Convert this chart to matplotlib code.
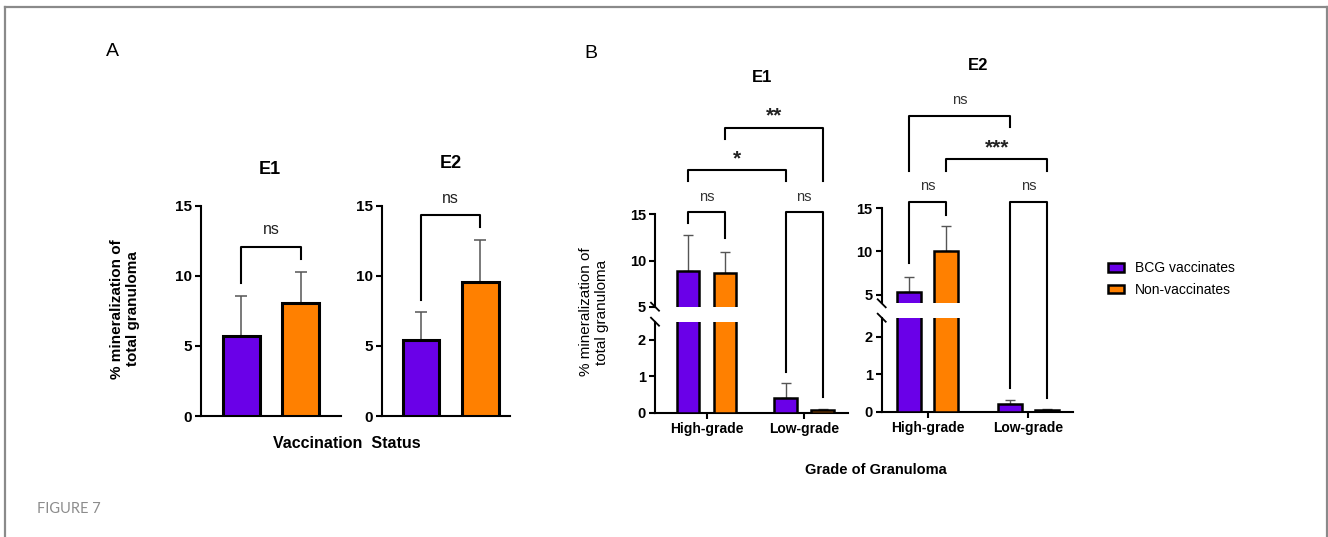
import numpy as np
import matplotlib
matplotlib.use("Agg")
import matplotlib.pyplot as plt
from matplotlib.lines import Line2D
from matplotlib.patches import Patch

plt.rcParams['font.family'] = ['Liberation Sans', 'DejaVu Sans']

W, H = 1328, 537

groups = ['BCG vaccinates', 'Non-vaccinates']
colors = ['#6a00e8', '#ff8000']

# panel A - % mineralization by vaccination status
a_e1_mean = [5.7, 8.1]
a_e1_err = [2.9, 2.2]
a_e2_mean = [5.4, 9.6]
a_e2_err = [2.0, 3.0]

# panel B - by grade of granuloma
grades = ['High-grade', 'Low-grade']
b_e1_bcg = [8.9, 0.41]
b_e1_bcg_err = [3.85, 0.41]
b_e1_non = [8.7, 0.07]
b_e1_non_err = [2.2, 0.02]
b_e2_bcg = [5.3, 0.20]
b_e2_bcg_err = [1.8, 0.11]
b_e2_non = [10.1, 0.05]
b_e2_non_err = [2.9, 0.02]

# brackets: (bar1, bar2, y, leg1 end, leg2 end, label y, text)
a_e1_sig = [(0, 1, 12.05, 9.5, 11.2, 13.3, 'ns')]
a_e2_sig = [(0, 1, 14.36, 8.3, 13.5, 15.5, 'ns')]
# bars in B numbered: 0 high-bcg, 1 high-non, 2 low-bcg, 3 low-non
b_e1_sig = [(0, 1, 15.28, 14.06, 12.43, 16.9, 'ns'),
            (2, 3, 15.28, 1.13, 0.44, 16.9, 'ns'),
            (0, 2, 19.79, 18.64, 18.64, 21.0, '*'),
            (1, 3, 24.37, 23.12, 18.64, 25.6, '**')]
b_e2_sig = [(0, 1, 15.76, 8.63, 14.22, 17.58, 'ns'),
            (2, 3, 15.76, 0.62, 0.36, 17.58, 'ns'),
            (1, 3, 20.7, 19.32, 19.32, 22.0, '***'),
            (0, 2, 25.68, 19.32, 24.44, 27.5, 'ns')]


def rect(l, t, r, b):
    return [l / W, 1 - b / H, (r - l) / W, (b - t) / H]


def style(ax, yfs, xfs=None, bold=True):
    for s in ['top', 'right']:
        ax.spines[s].set_visible(False)
    for s in ['left', 'bottom']:
        ax.spines[s].set_linewidth(1.5)
    ax.tick_params(width=1.5, length=4.5, pad=2)
    ax.tick_params(axis='y', labelsize=yfs)
    ax.tick_params(axis='x', labelsize=xfs or yfs)
    for t in ax.get_yticklabels() + ax.get_xticklabels():
        t.set_fontweight('bold' if bold else 'normal')


fig = plt.figure(figsize=(W / 100, H / 100), dpi=100)

# frame around the figure
frame = dict(color='#8a8a8a', lw=1.6, transform=fig.transFigure)
fig.add_artist(Line2D([4.5 / W, 1327 / W], [1 - 7 / H, 1 - 7 / H], **frame))
fig.add_artist(Line2D([4.5 / W, 4.5 / W], [0, 1 - 7 / H], **frame))
fig.add_artist(Line2D([1327 / W, 1327 / W], [0, 1 - 7 / H], **frame))

# ---- panel A ----
for r, mean, err, sig, xr in [((201, 206, 341, 416), a_e1_mean, a_e1_err, a_e1_sig, (-0.67, 1.67)),
                              ((382, 206, 510, 416), a_e2_mean, a_e2_err, a_e2_sig, (-0.66, 1.5))]:
    ax = fig.add_axes(rect(*r))
    x = np.arange(len(mean))
    ax.bar(x, mean, width=0.62, color=colors, edgecolor='black', linewidth=2.2, zorder=3)
    ax.errorbar(x, mean, yerr=[[0] * len(err), err], fmt='none', ecolor='#555555',
                elinewidth=1.1, capsize=4, capthick=1.1, zorder=2)
    ax.set_ylim(0, 15)
    ax.set_xlim(*xr)
    ax.set_yticks([0, 5, 10, 15])
    ax.set_xticks([])
    style(ax, 11)
    for b1, b2, y, l1, l2, ly, txt in sig:
        ax.plot([b1, b1, b2, b2], [l1, y, y, l2], color='k', lw=1.5, clip_on=False)
        ax.text((b1 + b2) / 2, ly, txt, ha='center', va='center', fontsize=11.5, color='#222222')

fig.text(270 / W, 1 - 170 / H, 'E1', ha='center', va='center', fontsize=13, fontweight='bold')
fig.text(451 / W, 1 - 163 / H, 'E2', ha='center', va='center', fontsize=13, fontweight='bold')
fig.text(125 / W, 1 - 309 / H, '% mineralization of\ntotal granuloma', rotation=90, ha='center',
         va='center', fontsize=11, fontweight='bold', multialignment='center', linespacing=1.1)
fig.text(347 / W, 1 - 444 / H, 'Vaccination  Status', ha='center', va='center', fontsize=11.5,
         fontweight='bold')
fig.text(112 / W, 1 - 52 / H, 'A', ha='center', va='center', fontsize=14)

# ---- panel B ----
panels = [
    ((655, 321.7, 848, 412.7), (655, 214.3, 848, 306.7), (-0.53, 1.45), 5, 0.19, 0.23,
     b_e1_bcg, b_e1_bcg_err, b_e1_non, b_e1_non_err, b_e1_sig),
    ((881.7, 317.7, 1073, 411.7), (881.7, 208.3, 1073, 303.3), (-0.457, 1.444), 4, 0.185, 0.24,
     b_e2_bcg, b_e2_bcg_err, b_e2_non, b_e2_non_err, b_e2_sig),
]
inv = fig.transFigure.inverted()
for rlo, rhi, xr, ybot, off, w, bcg, bcg_err, non, non_err, sig in panels:
    lo = fig.add_axes(rect(*rlo))
    hi = fig.add_axes(rect(*rhi))
    g = np.arange(len(grades))
    for ax in (lo, hi):
        for i, (vals, errs) in enumerate([(bcg, bcg_err), (non, non_err)]):
            xpos = g + (i - 0.5) * 2 * off
            ax.bar(xpos, vals, width=w, color=colors[i], edgecolor='black', linewidth=1.8, zorder=3)
            ax.errorbar(xpos, vals, yerr=[[0] * len(errs), errs], fmt='none', ecolor='#555555',
                        elinewidth=1.0, capsize=3.5, capthick=1.0, zorder=2)
        ax.set_xlim(*xr)
    xs = [0 - off, 0 + off, 1 - off, 1 + off]
    lo.set_ylim(0, 2.5)
    hi.set_ylim(ybot, 15)
    lo.set_yticks([0, 1, 2])
    hi.set_yticks([5, 10, 15])
    lo.set_xticks(g)
    lo.set_xticklabels(grades)
    hi.set_xticks([])
    style(lo, 10.5, 10)
    style(hi, 10.5, 10)
    hi.spines['bottom'].set_visible(False)

    # break marks on the y axis
    for ax, yv in [(lo, 2.5), (hi, ybot)]:
        px, py = ax.transData.transform((xr[0], yv))
        pts = inv.transform([(px - 4, py + 4), (px + 4, py - 4)])
        fig.add_artist(Line2D(pts[:, 0], pts[:, 1], color='k', lw=1.3, transform=fig.transFigure))

    def disp(x, v):
        ax = lo if v <= 2.5 else hi
        return ax.transData.transform((x, v))

    for b1, b2, y, l1, l2, ly, txt in sig:
        x1, x2 = xs[b1], xs[b2]
        pts = np.array([disp(x1, l1), disp(x1, y), disp(x2, y), disp(x2, l2)])
        pts = inv.transform(pts)
        fig.add_artist(Line2D(pts[:, 0], pts[:, 1], color='k', lw=1.5, transform=fig.transFigure))
        tx, ty = inv.transform(disp((x1 + x2) / 2, ly))
        if 'ns' in txt:
            fig.text(tx, ty, txt, ha='center', va='center', fontsize=10.5, color='#333333')
        else:
            fig.text(tx, ty, txt, ha='center', va='center', fontsize=15, color='#222222',
                     fontweight='bold')

fig.text(762 / W, 1 - 78 / H, 'E1', ha='center', va='center', fontsize=12, fontweight='bold')
fig.text(978 / W, 1 - 66 / H, 'E2', ha='center', va='center', fontsize=12, fontweight='bold')
fig.text(594 / W, 1 - 312 / H, '% mineralization of\ntotal granuloma', rotation=90, ha='center',
         va='center', fontsize=11, multialignment='center', linespacing=1.1)
fig.text(876 / W, 1 - 470 / H, 'Grade of Granuloma', ha='center', va='center', fontsize=10.5,
         fontweight='bold')
fig.text(591 / W, 1 - 53 / H, 'B', ha='center', va='center', fontsize=14)

handles = [Patch(facecolor=c, edgecolor='black', linewidth=1.8) for c in colors]
fig.legend(handles, groups, loc='center left', bbox_to_anchor=(1095 / W, 1 - 279 / H), frameon=False,
           fontsize=10, handlelength=1.2, handleheight=0.6, labelspacing=0.55, handletextpad=0.8)

fig.text(37 / W, 1 - 509 / H, 'FIGURE 7', ha='left', va='center', fontsize=10.5, color='#8c8c8c',
         family=['Lato', 'DejaVu Sans'])

fig.savefig('out.png', dpi=100)
